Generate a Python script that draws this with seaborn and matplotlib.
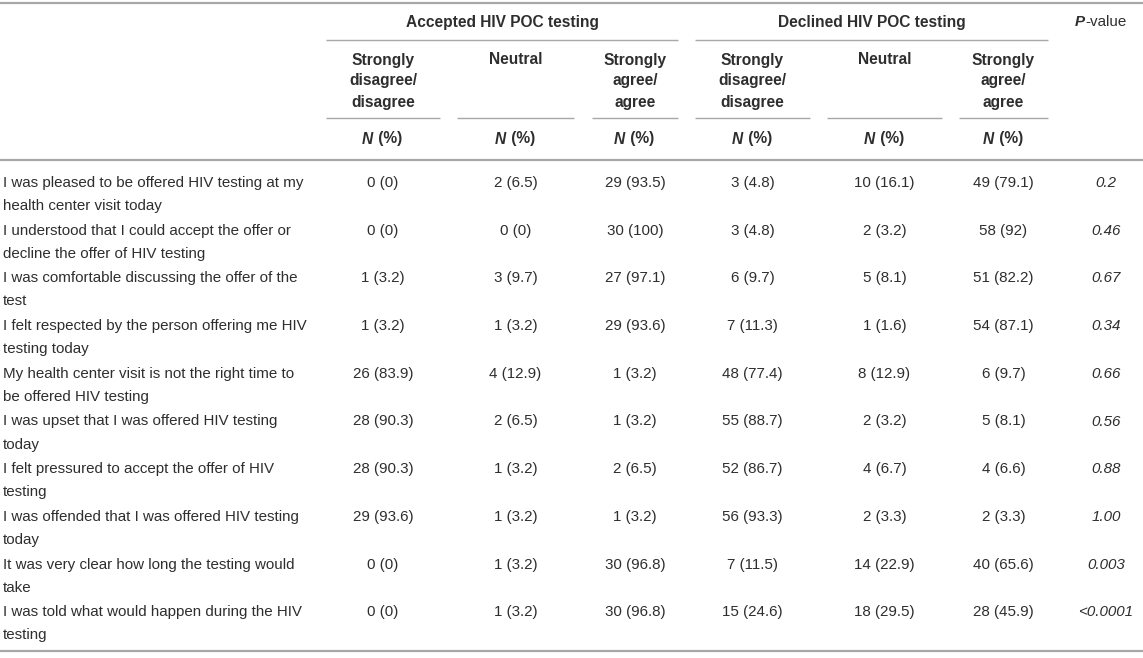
import matplotlib
matplotlib.use("Agg")
import matplotlib.pyplot as plt
import seaborn as sns

sns.set_theme(style="white")
plt.rcParams['font.family'] = ['Liberation Sans', 'DejaVu Sans']

# ---------------- data ----------------
statements = [
    "I was pleased to be offered HIV testing at my\nhealth center visit today",
    "I understood that I could accept the offer or\ndecline the offer of HIV testing",
    "I was comfortable discussing the offer of the\ntest",
    "I felt respected by the person offering me HIV\ntesting today",
    "My health center visit is not the right time to\nbe offered HIV testing",
    "I was upset that I was offered HIV testing\ntoday",
    "I felt pressured to accept the offer of HIV\ntesting",
    "I was offended that I was offered HIV testing\ntoday",
    "It was very clear how long the testing would\ntake",
    "I was told what would happen during the HIV\ntesting",
]
groups = ["Accepted HIV POC testing", "Declined HIV POC testing"]
response_levels = ["Strongly\ndisagree/\ndisagree", "Neutral", "Strongly\nagree/\nagree"]

acc_disagree_n = [0, 0, 1, 1, 26, 28, 28, 29, 0, 0]
acc_disagree_pct = [0, 0, 3.2, 3.2, 83.9, 90.3, 90.3, 93.6, 0, 0]
acc_neutral_n = [2, 0, 3, 1, 4, 2, 1, 1, 1, 1]
acc_neutral_pct = [6.5, 0, 9.7, 3.2, 12.9, 6.5, 3.2, 3.2, 3.2, 3.2]
acc_agree_n = [29, 30, 27, 29, 1, 1, 2, 1, 30, 30]
acc_agree_pct = [93.5, 100, 97.1, 93.6, 3.2, 3.2, 6.5, 3.2, 96.8, 96.8]
dec_disagree_n = [3, 3, 6, 7, 48, 55, 52, 56, 7, 15]
dec_disagree_pct = [4.8, 4.8, 9.7, 11.3, 77.4, 88.7, 86.7, 93.3, 11.5, 24.6]
dec_neutral_n = [10, 2, 5, 1, 8, 2, 4, 2, 14, 18]
dec_neutral_pct = [16.1, 3.2, 8.1, 1.6, 12.9, 3.2, 6.7, 3.3, 22.9, 29.5]
dec_agree_n = [49, 58, 51, 54, 6, 5, 4, 2, 40, 28]
dec_agree_pct = [79.1, 92, 82.2, 87.1, 9.7, 8.1, 6.6, 3.3, 65.6, 45.9]
p_values = ["0.2", "0.46", "0.67", "0.34", "0.66", "0.56", "0.88", "1.00", "0.003", "<0.0001"]

columns_n = [acc_disagree_n, acc_neutral_n, acc_agree_n,
             dec_disagree_n, dec_neutral_n, dec_agree_n]
columns_pct = [acc_disagree_pct, acc_neutral_pct, acc_agree_pct,
               dec_disagree_pct, dec_neutral_pct, dec_agree_pct]

# ---------------- layout ----------------
W, H = 1143, 658
fig = plt.figure(figsize=(W / 100, H / 100), dpi=100)
ax = fig.add_axes([0, 0, 1, 1])
ax.set_xlim(0, W)
ax.set_ylim(H, 0)
ax.axis("off")

TXT = "#2e2e2e"
LINE = "#a8a8a8"
FS = 10.9
FSB = 11.2

seg_spans = [(326, 440), (457, 574), (592, 678), (695, 810), (827, 942), (959, 1048)]
col_x = [(a + b) / 2 for a, b in seg_spans]
p_x = 1106
group_spans = [(326, 678), (695, 1048)]

# rules
ax.hlines(3, 0, W, color=LINE, lw=1.6)
ax.hlines(160, 0, W, color=LINE, lw=1.6)
ax.hlines(651, 0, W, color=LINE, lw=1.6)
for a, b in group_spans:
    ax.hlines(40, a, b, color=LINE, lw=1.0)
for a, b in seg_spans:
    ax.hlines(118, a, b, color=LINE, lw=1.0)

# group headers
for (a, b), g in zip(group_spans, groups):
    ax.text((a + b) / 2, 22.5, g, ha="center", va="center", fontsize=FSB,
            fontweight="bold", color=TXT)

# response level headers
for i, x in enumerate(col_x):
    lines = response_levels[i % 3].split("\n")
    for j, ln in enumerate(lines):
        ax.text(x, 60 + 21 * j, ln, ha="center", va="center", fontsize=FSB,
                fontweight="bold", color=TXT)

fig.canvas.draw()
renderer = fig.canvas.get_renderer()


def composite(x, y, parts, fs, gap=0.0):
    """parts: list of (text, weight, style); centered at x."""
    objs = []
    for t, w, s in parts:
        objs.append(ax.text(0, y, t, ha="left", va="center", fontsize=fs,
                            fontweight=w, fontstyle=s, color=TXT))
    widths = [o.get_window_extent(renderer=renderer).width + gap for o in objs]
    cur = x - sum(widths) / 2
    for o, w in zip(objs, widths):
        o.set_x(cur)
        cur += w


# N (%) headers
for x in col_x:
    composite(x, 139, [("N", "bold", "italic"), (" (%)", "bold", "normal")], FSB, gap=1.5)

# P-value header
composite(1101, 22.5, [("P", "bold", "italic"), ("-value", "normal", "normal")], FS, gap=0.5)

# body rows
row0 = 183
row_step = 47.7
for r, stmt in enumerate(statements):
    y = row0 + r * row_step
    for j, ln in enumerate(stmt.split("\n")):
        ax.text(3, y + 23 * j, ln, ha="left", va="center", fontsize=FS, color=TXT)
    for c, x in enumerate(col_x):
        n = columns_n[c][r]
        p = columns_pct[c][r]
        ax.text(x, y, f"{n} ({p:g})", ha="center", va="center", fontsize=FS, color=TXT)
    ax.text(p_x, y, p_values[r], ha="center", va="center", fontsize=FS,
            fontstyle="italic", color=TXT)

fig.savefig("out.png", dpi=100)
